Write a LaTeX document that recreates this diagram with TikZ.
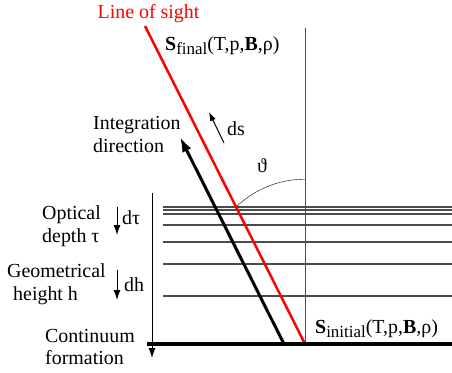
\documentclass[tikz,border=0pt]{standalone}
\usepackage{fontspec}
\setmainfont{Liberation Serif}
\usetikzlibrary{arrows.meta}

\tikzset{
  lbl/.style={font=\fontsize{20}{22}\selectfont, inner sep=0pt},
  thinarrow/.style={-{Latex[length=10bp,width=7bp]}, line width=1bp},
  layer/.style={line width=1.2bp, black!70},
}
\newcommand{\sourcefn}[1]{\textbf{S}\raisebox{-4bp}{\fontsize{17}{18}\selectfont #1}(T,p,\textbf{B},ρ)}

\begin{document}
\begin{tikzpicture}[x=1bp,y=-1bp]
\useasboundingbox (0,0) rectangle (452,372);

% Puntos principales
\coordinate (top) at (305,28);
\coordinate (base) at (305,344);
\coordinate (sight) at (145,26);
\coordinate (floorL) at (147,344);
\coordinate (floorR) at (452,344);
\coordinate (intS) at (284,344);
\coordinate (intE) at (180,137);
\coordinate (axT) at (152,193);
\coordinate (axB) at (152,358);
\coordinate (arcS) at (236.1,207);

% Capas
	\foreach \y in {207,210,214,225,242,264,296}
		\draw[layer] (163,\y) -- (452,\y);

\draw[line width=1bp, black!70] (top) -- (base);
\draw (arcS) arc[start angle=134, end angle=90, radius=99bp];
\draw[red, line width=2.5bp] (sight) -- (base);
\draw[line width=3bp, -{Latex[length=15bp,width=10bp]}] (intS) -- (intE);
\draw[line width=4.5bp] (floorL) -- (floorR);
\draw[thinarrow] (axT) -- (axB);

% Textos
\node[lbl, red, anchor=base] (los) at (148.5,18) {Line of sight};
\node[lbl, anchor=base west] (sfin) at (165,50) {\sourcefn{final}};
\node[lbl, anchor=base west] (sini) at (315,333) {\sourcefn{initial}};
\node[lbl, anchor=base west] (intA) at (93,129) {Integration};
\node[lbl, anchor=base west] (intB) at (93,152) {direction};
\node[lbl, anchor=base] (theta) at (262,172) {ϑ};

\coordinate (dsS) at (224,143);
\coordinate (dsE) at (209,112);
\draw[thinarrow, -{Latex[length=9bp,width=6bp]}] (dsS) -- (dsE);
\node[lbl, anchor=base west] (ds) at (227,135) {ds};

\node[lbl, anchor=base west] (optA) at (42,219) {Optical};
\node[lbl, anchor=base west] (optB) at (42,242) {depth τ};
\coordinate (tauS) at (117,207);
\coordinate (tauE) at (117,235);
\draw[thinarrow] (tauS) -- (tauE);
\node[lbl, anchor=base west] (dtau) at (122,224) {dτ};

\node[lbl, anchor=base west] (geoA) at (7,277) {Geometrical};
\node[lbl, anchor=base west] (geoB) at (13,300) {height h};
\coordinate (hS) at (117,270);
\coordinate (hE) at (117,300);
\draw[thinarrow] (hS) -- (hE);
\node[lbl, anchor=base west] (dh) at (124,291) {dh};

\node[lbl, anchor=base west] (conA) at (45,342) {Continuum};
\node[lbl, anchor=base west] (conB) at (45,364) {formation};
\end{tikzpicture}
\end{document}
